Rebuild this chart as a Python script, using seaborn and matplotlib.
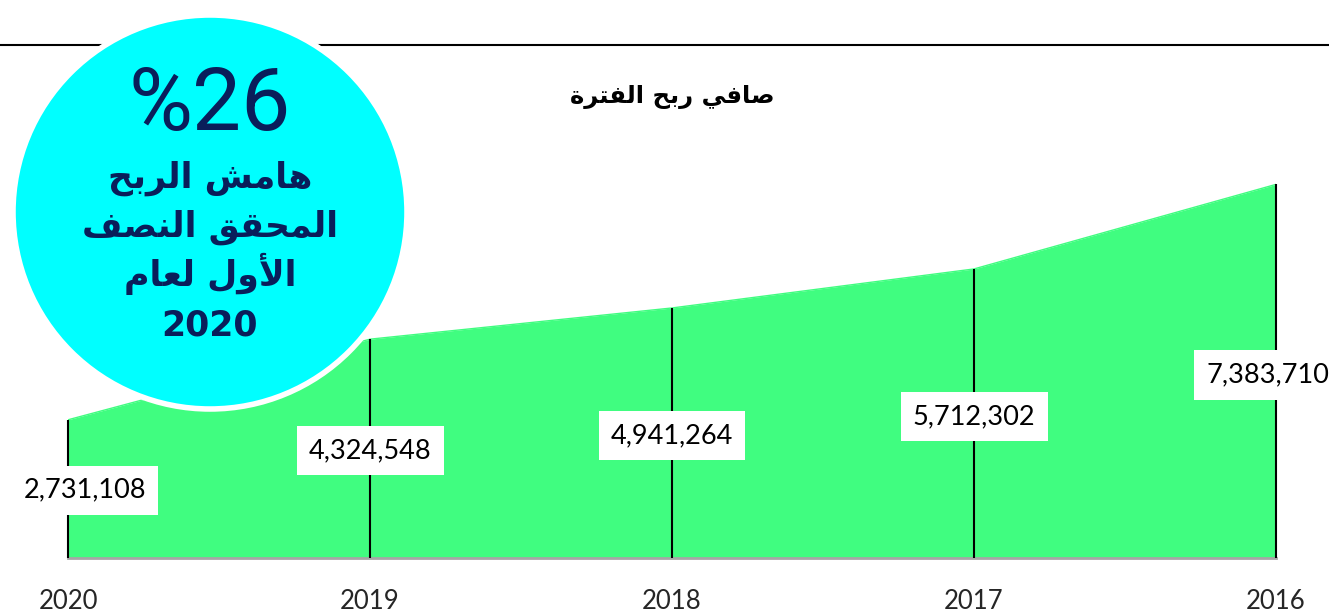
import matplotlib
matplotlib.use("Agg")
import matplotlib.pyplot as plt
import seaborn as sns
from matplotlib.patches import Circle

# data
years = [2020, 2019, 2018, 2017, 2016]
profit = [2731108, 4324548, 4941264, 5712302, 7383710]
year_labels = ["2020", "2019", "2018", "2017", "2016"]

# Arabic text in visual (presentation-form) order, since matplotlib does no shaping
title = "\uFE93\uFEAE\uFE98\uFED4\uFEDF\uFE8D \uFEA2\uFE91\uFEAD \uFEF2\uFED3\uFE8E\uFEBB"  # صافي ربح الفترة
badge_value = "%26"
badge_lines = [
    "\uFEA2\uFE91\uFEAE\uFEDF\uFE8D \uFEB6\uFEE3\uFE8E\uFEEB",  # هامش الربح
    "\uFED2\uFEBC\uFEE8\uFEDF\uFE8D \uFED6\uFED8\uFEA4\uFEE4\uFEDF\uFE8D",  # المحقق النصف
    "\uFEE1\uFE8E\uFECC\uFEDF \uFEDD\uFEED\uFEF7\uFE8D",  # الأول لعام
    "2020",
]

green = "#40fd80"
cyan = "#00ffff"
navy = "#0a1e5a"

sns.set_style("white")

W, H = 1329, 613
fig = plt.figure(figsize=(W / 100, H / 100), dpi=100)
ax = fig.add_axes([68 / W, 55 / H, 1208 / W, 506 / H])

ax.fill_between(years, profit, 0, color=green, lw=0, zorder=1)
sns.lineplot(x=years, y=profit, color=green, lw=1, ax=ax, zorder=2)
ax.vlines(years, 0, profit, color="black", lw=1.5, zorder=3, clip_on=False)

ax.set_xlim(2020, 2016)
ax.set_ylim(0, 10e6)
ax.set_yticks([])
ax.set_xticks(years)
ax.set_xticklabels(year_labels, fontsize=18.5, family="Lato")
ax.tick_params(axis="x", length=0, pad=22)
for s in ["top", "left", "right"]:
    ax.spines[s].set_visible(False)
ax.spines["bottom"].set_color("#a6a6a6")
ax.spines["bottom"].set_linewidth(2)

# value labels in white boxes
x_shift = [12, 0, 0, 0, -6]
for yr, v, dx in zip(years, profit, x_shift):
    ax.annotate(f"{v:,}", xy=(yr, v * 0.49), xytext=(dx, 0), textcoords="offset points",
                ha="center", va="center", fontsize=19.5, family="Lato", color="black",
                bbox=dict(boxstyle="square,pad=0.45", fc="white", ec="none"),
                zorder=5, annotation_clip=False)

# overlay in pixel coordinates
ov = fig.add_axes([0, 0, 1, 1])
ov.set_xlim(0, W)
ov.set_ylim(H, 0)
ov.axis("off")
ov.patch.set_alpha(0)

ov.plot([0, W], [45, 45], color="black", lw=1.5, zorder=1)
ov.add_patch(Circle((210, 212), 197, fc=cyan, ec="white", lw=4, zorder=2))

ov.text(672, 97, title, ha="center", va="center", fontsize=17.5, fontweight="bold",
        family="DejaVu Sans", color="black")

ov.text(210, 130, badge_value, ha="center", va="baseline", fontsize=63,
        family="Roboto", fontweight="normal", color=navy, zorder=3)
for i, line in enumerate(badge_lines):
    ov.text(210, 188 + i * 49, line, ha="center", va="baseline", fontsize=25,
            fontweight="bold", family="DejaVu Sans", color=navy, zorder=3)

fig.savefig("out.png", dpi=100)
